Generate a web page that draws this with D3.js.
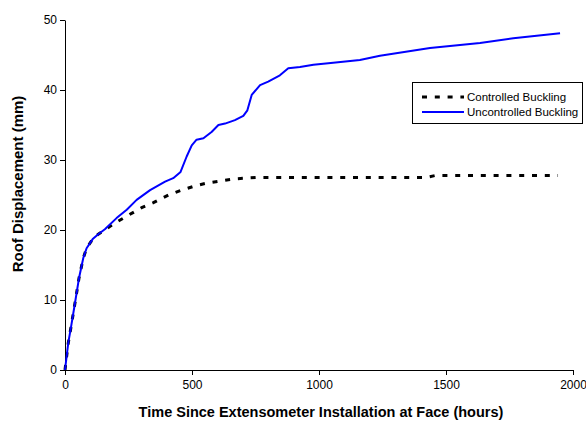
<!DOCTYPE html>
<html><head><meta charset="utf-8">
<script src="https://cdn.jsdelivr.net/npm/d3@7/dist/d3.min.js"></script>
<style>body{margin:0;background:#fff}svg{display:block}text{font-family:"Liberation Sans",Arial,sans-serif}</style>
</head><body><svg id="c" width="586" height="421"></svg>
<script>
const xTicks = [0, 500, 1000, 1500, 2000];
const yTicks = [0, 10, 20, 30, 40, 50];
const seriesNames = ["Controlled Buckling", "Uncontrolled Buckling"];
const controlledHours = [0,13,24,39,55,72,85,109,131,160,197,249,302,348,407,459,512,558,610,663,709,755,1000,1420,1460,1941];
const controlledMm    = [0,3.9,6.2,9.5,13.1,16,17.4,18.7,19.4,20.1,21.0,22.1,23.2,23.9,25,25.7,26.3,26.7,27.0,27.3,27.4,27.5,27.5,27.5,27.8,27.8];
const uncontrolledHours = [0,13,24,39,55,72,85,109,131,157,203,243,282,335,394,426,455,479,499,518,545,577,604,630,669,702,718,735,768,800,846,879,925,978,1056,1161,1240,1437,1634,1765,1949];
const uncontrolledMm    = [0,3.9,6.2,9.5,13.1,16,17.4,18.7,19.4,20.1,21.7,22.9,24.3,25.7,26.9,27.4,28.3,30.5,32.1,32.9,33.1,34.0,35.0,35.2,35.7,36.3,37.1,39.3,40.7,41.2,42.1,43.1,43.3,43.6,43.9,44.3,44.9,46.0,46.7,47.4,48.1];

const svg = d3.select("#c");
const x = d3.scaleLinear().domain([0, 2000]).range([65, 573]);
const y = d3.scaleLinear().domain([0, 50]).range([370, 20]);

const xa = svg.append("g").attr("transform", "translate(0,370)")
  .call(d3.axisBottom(x).tickValues(xTicks).tickSize(5).tickSizeOuter(0).tickFormat(d3.format("d")));
const ya = svg.append("g").attr("transform", "translate(65,0)")
  .call(d3.axisLeft(y).tickValues(yTicks).tickSize(5).tickSizeOuter(0).tickFormat(d3.format("d")));
[xa, ya].forEach(g => {
  g.selectAll("path,line").attr("stroke", "#000").attr("stroke-width", 1);
  g.selectAll("text").attr("font-size", 12).attr("fill", "#000").attr("font-family", "Liberation Sans, Arial, sans-serif");
});
xa.selectAll("text").attr("dy", "0.95em");
ya.selectAll("text").attr("x", -8);

const line = d3.line().x(d => x(d[0])).y(d => y(d[1]));
const cData = controlledHours.map((h, i) => [h, controlledMm[i]]);
const uData = uncontrolledHours.map((h, i) => [h, uncontrolledMm[i]]);

svg.append("path").datum(cData).attr("d", line).attr("fill", "none")
  .attr("stroke", "#000").attr("stroke-width", 3).attr("stroke-dasharray", "5,7.8");
svg.append("path").datum(uData).attr("d", line).attr("fill", "none")
  .attr("stroke", "#0000ff").attr("stroke-width", 2).attr("stroke-linejoin", "round");

svg.append("text").attr("x", 321).attr("y", 417).attr("text-anchor", "middle")
  .attr("font-size", 14.5).attr("font-weight", "bold").text("Time Since Extensometer Installation at Face (hours)");
svg.append("text").attr("transform", "translate(22.5,184) rotate(-90)").attr("text-anchor", "middle")
  .attr("font-size", 15).attr("font-weight", "bold").text("Roof Displacement (mm)");

const lg = svg.append("g");
lg.append("rect").attr("x", 412.5).attr("y", 82.5).attr("width", 170).attr("height", 41)
  .attr("fill", "#fff").attr("stroke", "#000").attr("stroke-width", 1);
const styles = [{c:"#000", w:3, d:"5,7.8"}, {c:"#0000ff", w:2, d:null}];
seriesNames.forEach((n, i) => {
  const yy = 97 + i * 15;
  const l = lg.append("line").attr("x1", 422).attr("x2", 464).attr("y1", yy).attr("y2", yy)
    .attr("stroke", styles[i].c).attr("stroke-width", styles[i].w);
  if (styles[i].d) l.attr("stroke-dasharray", styles[i].d);
  lg.append("text").attr("x", 467).attr("y", yy + 4).attr("font-size", 11.5).text(n);
});
</script></body></html>
